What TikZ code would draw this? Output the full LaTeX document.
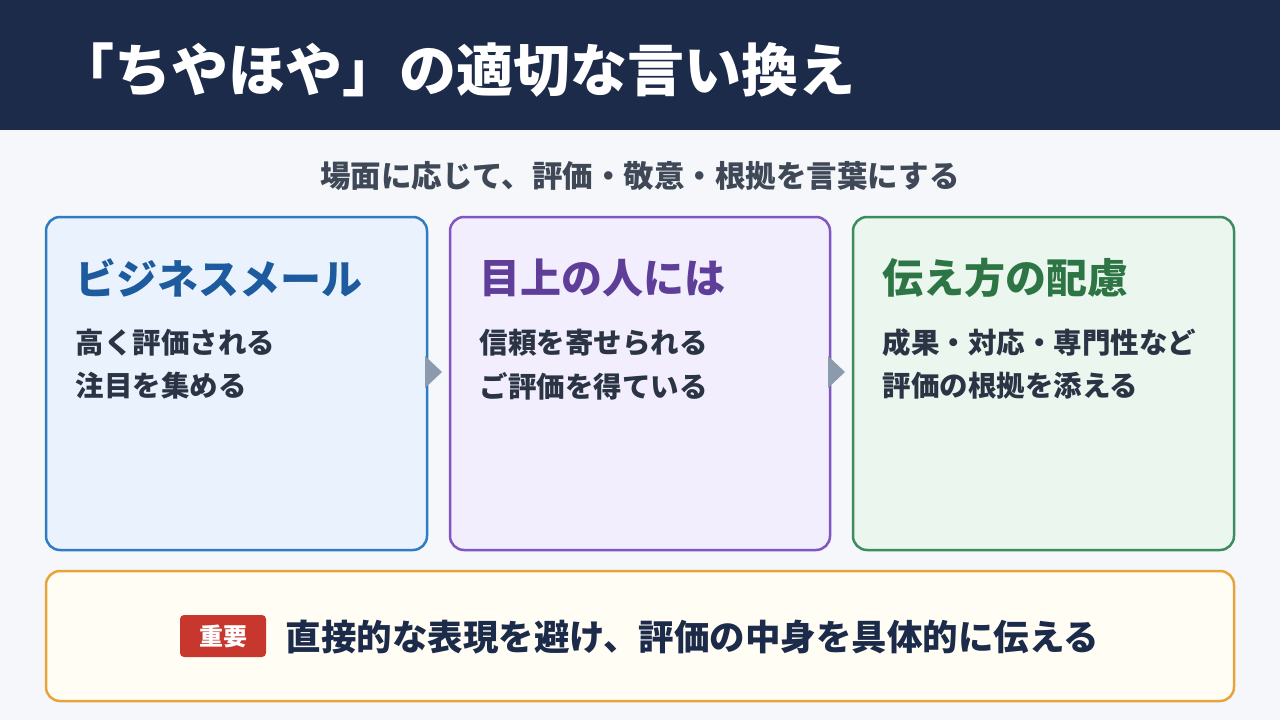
\documentclass[tikz,border=0pt]{standalone}
\usepackage{fontspec}
\setmainfont{Noto Sans CJK JP}
\definecolor{navy}{HTML}{1C2B4A}
\definecolor{bg}{HTML}{F5F7FB}
\definecolor{bodyc}{HTML}{2A3444}
\definecolor{bB}{HTML}{2F7BC4}\definecolor{fB}{HTML}{EAF3FD}\definecolor{tB}{HTML}{1E5B9E}
\definecolor{bP}{HTML}{7E57C2}\definecolor{fP}{HTML}{F2EEFD}\definecolor{tP}{HTML}{5E3E99}
\definecolor{bG}{HTML}{3C8C5E}\definecolor{fG}{HTML}{EAF6EE}\definecolor{tG}{HTML}{2E7545}
\definecolor{bO}{HTML}{E8A33A}\definecolor{fO}{HTML}{FFFDF4}
\definecolor{redb}{HTML}{C8372D}
\definecolor{arr}{HTML}{8C9AAE}
\begin{document}
\begin{tikzpicture}[x=1pt,y=-1pt,
  card/.style={rounded corners=14pt,line width=2.5pt},
  ttl/.style={anchor=west,font=\fontsize{41}{45}\selectfont\bfseries},
  bod/.style={anchor=west,text=bodyc,font=\fontsize{28.5}{32}\selectfont\bfseries},
  tri/.style={fill=arr}]
\useasboundingbox (0,0) rectangle (1280,720);
\fill[bg] (0,0) rectangle (1280,720);
\fill[navy] (0,0) rectangle (1280,130);
\node[anchor=west,text=white,font=\fontsize{57}{62}\selectfont\bfseries] (title) at (54,70) {「ちやほや」の適切な言い換え};
\node[text=bodyc!90,font=\fontsize{30.5}{34}\selectfont\bfseries] (sub) at (640,176) {場面に応じて、評価・敬意・根拠を言葉にする};
\draw[card,draw=bB,fill=fB] (46,217) rectangle (427,550);
\draw[card,draw=bP,fill=fP] (450,217) rectangle (830,550);
\draw[card,draw=bG,fill=fG] (853,217) rectangle (1234,550);
\node[ttl,text=tB] (t1) at (72,278) {ビジネスメール};
\node[ttl,text=tP] (t2) at (476,278) {目上の人には};
\node[ttl,text=tG] (t3) at (879,278) {伝え方の配慮};
\node[bod] (a1) at (72,343) {高く評価される};
\node[bod] (a2) at (72,386) {注目を集める};
\node[bod] (b1) at (476,343) {信頼を寄せられる};
\node[bod] (b2) at (476,386) {ご評価を得ている};
\node[bod] (c1) at (879,343) {成果・対応・専門性など};
\node[bod] (c2) at (879,386) {評価の根拠を添える};
\fill[tri] (425,356) -- (442,372) -- (425,388) -- cycle;
\fill[tri] (828,356) -- (845,372) -- (828,388) -- cycle;
\draw[card,draw=bO,fill=fO] (46,571) rectangle (1234,701);
\node[fill=redb,rounded corners=4pt,text=white,minimum width=86pt,minimum height=42pt,inner sep=0pt,font=\fontsize{24}{28}\selectfont\bfseries] (badge) at (223,636) {重要};
\node[anchor=west,text=navy,font=\fontsize{35.5}{40}\selectfont\bfseries] (msg) at (282,637) {直接的な表現を避け、評価の中身を具体的に伝える};
\end{tikzpicture}
\end{document}
